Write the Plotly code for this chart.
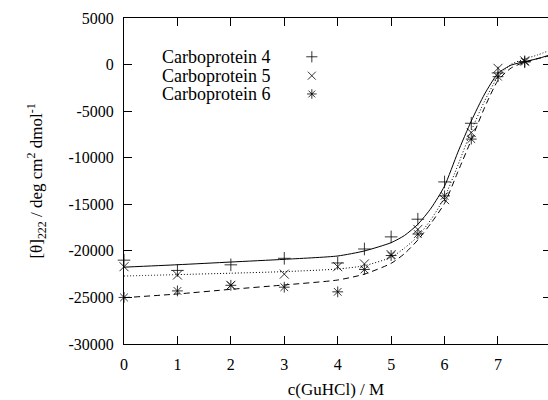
import plotly.graph_objects as go

# ---------------- data ----------------
conc = [0, 1, 2, 3, 4, 4.5, 5, 5.5, 6, 6.5, 7, 7.5]
conc4 = [0, 1, 2, 3, 4, 4.5, 5, 5.5, 6, 6.5, 7, 7.5, 8]
theta4 = [-21000, -22100, -21500, -20800, -21300, -19800, -18500, -16600, -12600, -6300, -900, 300, 300]
theta5 = [-21700, -22600, -23700, -22500, -21700, -21400, -20400, -17700, -14500, -7300, -400, 400]
theta6 = [-25000, -24300, -23700, -23900, -24400, -22000, -20500, -18200, -14100, -8000, -1300, 300]

fit_x = [0, 1, 2, 3, 4, 4.5, 5, 5.25, 5.5, 5.75, 6, 6.25, 6.5, 6.75, 7, 7.25, 7.5, 7.75, 7.936]
fit4 = [-21750, -21490, -21200, -20910, -20550, -20010, -19120, -18350, -17150, -15400, -13040, -9400, -6060, -3160, -940, -50, 310, 650, 970]
fit5 = [-22700, -22550, -22400, -22230, -21950, -21590, -20690, -19700, -18450, -16600, -14250, -10800, -7100, -3900, -1300, 50, 600, 1050, 1450]
fit6 = [-25030, -24630, -24130, -23660, -23130, -22500, -21340, -20300, -18830, -17000, -14900, -11500, -8100, -4600, -1700, -350, 250, 650, 900]

names = ["Carboprotein 4", "Carboprotein 5", "Carboprotein 6"]
symbols = ["cross-thin", "x-thin", "asterisk"]
dashes = ["solid", "1px,2px", "6px,4px"]
xticks = [0, 1, 2, 3, 4, 5, 6, 7]
yticks = [5000, 0, -5000, -10000, -15000, -20000, -25000, -30000]
ytick_text = ["5000", "0", "-5000", "-10000", "-15000", "-20000", "-25000", "-30000"]

# legend layout (paper fractions)
leg_text_x = 0.349
leg_key_x = 0.443
leg_rows = [0.881, 0.823, 0.767]

FONT = "'Times New Roman', 'Liberation Serif', 'DejaVu Serif', 'Noto Serif', serif"

fig = go.Figure()

fits = [fit4, fit5, fit6]
for f, d in zip(fits, dashes):
    fig.add_trace(go.Scatter(x=fit_x, y=f, mode="lines",
                             line=dict(color="black", width=1, dash=d, shape="spline", smoothing=0.6),
                             showlegend=False, hoverinfo="skip"))

pts = [(conc4, theta4), (conc, theta5), (conc, theta6)]
for (xs, ys), s in zip(pts, symbols):
    fig.add_trace(go.Scatter(x=xs, y=ys, mode="markers",
                             marker=dict(symbol=s, size=9, color="black",
                                         line=dict(color="black", width=0.8)),
                             showlegend=False, cliponaxis=False))

# legend keys on an overlay axis in paper-like units
fig.add_trace(go.Scatter(x=[leg_key_x] * 3, y=leg_rows, mode="markers",
                         xaxis="x2", yaxis="y3",
                         marker=dict(symbol=symbols, size=8, color="black",
                                     line=dict(color="black", width=0.8)),
                         showlegend=False, hoverinfo="skip"))
# right-side ticks
fig.add_trace(go.Scatter(x=[None], y=[None], yaxis="y2", showlegend=False, hoverinfo="skip"))

for n, r in zip(names, leg_rows):
    fig.add_annotation(text=n, xref="paper", yref="paper", x=leg_text_x, y=r,
                       xanchor="right", yanchor="middle", showarrow=False,
                       font=dict(family=FONT, size=18, color="black"))

fig.update_layout(
    width=548, height=400,
    margin=dict(l=124, r=0, t=18, b=56),
    paper_bgcolor="white", plot_bgcolor="white",
    font=dict(family=FONT, size=16, color="black"),
    xaxis=dict(range=[0, 7.936], tickvals=xticks, ticks="inside", ticklen=8,
               tickcolor="black", showline=True, linecolor="black", linewidth=1,
               mirror="ticks", showgrid=False, zeroline=False,
               ticklabelstandoff=6, tickfont=dict(family=FONT, size=16),
               title=dict(text="c(GuHCl) / M", font=dict(family=FONT, size=17), standoff=10)),
    yaxis=dict(range=[-30000, 5000], tickvals=yticks, ticktext=ytick_text,
               ticks="inside", ticklen=8,
               tickcolor="black", showline=True, linecolor="black", linewidth=1,
               showgrid=False, zeroline=False, ticklabelstandoff=6,
               tickfont=dict(family=FONT, size=16),
               title=dict(text="[θ]<sub>222</sub> / deg cm<sup>2</sup> dmol<sup>-1</sup>",
                          font=dict(family=FONT, size=17), standoff=21)),
    yaxis2=dict(range=[-30000, 5000], tickvals=yticks, overlaying="y", side="right",
                ticks="inside", ticklen=5, tickcolor="black", showline=False,
                showticklabels=False, showgrid=False, zeroline=False),
    xaxis2=dict(range=[0, 1], overlaying="x", visible=False),
    yaxis3=dict(range=[0, 1], overlaying="y", visible=False),
)

fig.write_html("out.html")
